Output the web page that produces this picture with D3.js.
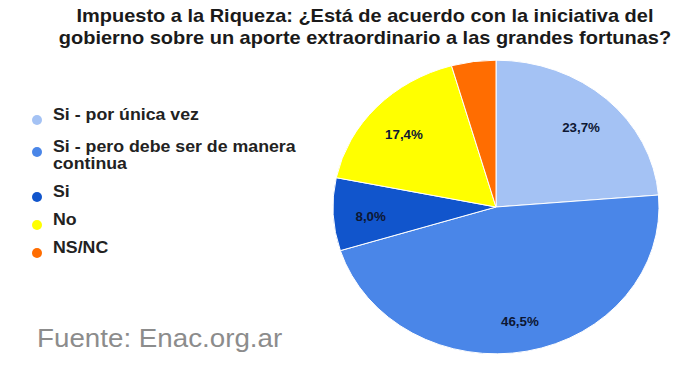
<!DOCTYPE html>
<html>
  <head>
    <meta charset="utf-8">
    <title>Impuesto a la Riqueza</title>
    <script src="https://d3js.org/d3.v7.min.js"></script>
    <style>
      body { margin: 0; background: #fff; }
      svg { display: block; font-family: "Liberation Sans", Arial, sans-serif; }
      .title { font-size: 18px; font-weight: bold; fill: #1a1a1a; }
      .legend text { font-size: 16px; font-weight: bold; fill: #222; }
      .slice { stroke: #fff; stroke-width: 1; }
      .label { font-size: 12px; font-weight: bold; fill: #0d1733; }
      .source { font-size: 25px; fill: #8c8c8c; }
    </style>
  </head>
  <body>
    <script>
      var categories = ['Si - por única vez', 'Si - pero debe ser de manera continua', 'Si', 'No', 'NS/NC'];
      var values = [23.7, 46.5, 8.0, 17.4, 4.4];
      var colors = ['#a4c2f4', '#4a86e8', '#1155cc', '#ffff00', '#ff6d01'];
      var titleLines = ['Impuesto a la Riqueza: ¿Está de acuerdo con la iniciativa del',
                        'gobierno sobre un aporte extraordinario a las grandes fortunas?'];
      var legendLines = [['Si - por única vez'], ['Si - pero debe ser de manera', 'continua'], ['Si'], ['No'], ['NS/NC']];

      var width = 693, height = 371;
      // the original picture is stretched sideways, text included
      var sx = 1.11;
      var svg = d3.select('body').append('svg').attr('width', width).attr('height', height);

      svg.append('g').attr('transform', 'translate(365,0) scale(' + sx + ',1)')
        .selectAll('.title').data(titleLines).enter().append('text')
        .attr('class', 'title')
        .attr('y', function(d, i){ return 22 + i * 22 })
        .attr('text-anchor', 'middle')
        .text(function(d){ return d });

      var cx = 496, cy = 207, rx = 163, ry = rx / sx;
      var pie = d3.pie().sort(null)(values);
      var arc = d3.arc().innerRadius(0).outerRadius(ry);

      var g = svg.append('g').attr('transform', 'translate(' + cx + ',' + cy + ') scale(' + sx + ',1)');
      g.selectAll('path').data(pie).enter().append('path')
        .attr('class', 'slice')
        .attr('vector-effect', 'non-scaling-stroke')
        .attr('fill', function(d, i){ return colors[i] })
        .attr('d', arc);

      var labelArc = d3.arc().innerRadius(ry * 0.77).outerRadius(ry * 0.77);
      g.selectAll('.label').data(pie.filter(function(d){ return d.data >= 5 })).enter().append('text')
        .attr('class', 'label')
        .attr('text-anchor', 'middle')
        .attr('dy', '0.7em')
        .attr('x', function(d){ return labelArc.centroid(d)[0] })
        .attr('y', function(d){ return labelArc.centroid(d)[1] })
        .text(function(d){ return d.data.toFixed(1).replace('.', ',') + '%' });

      var rowY = [120, 152, 197, 225, 253];
      var legend = svg.append('g').attr('class', 'legend');
      var rows = legend.selectAll('g').data(categories).enter().append('g')
        .attr('transform', function(d, i){ return 'translate(37,' + rowY[i] + ')' });
      rows.append('circle').attr('r', 5).attr('fill', function(d, i){ return colors[i] });
      rows.append('text')
        .attr('transform', 'translate(16,0) scale(' + sx + ',1)')
        .attr('dy', '0.36em')
        .selectAll('tspan').data(function(d, i){ return legendLines[i] }).enter().append('tspan')
        .attr('x', 0)
        .attr('dy', function(d, j){ return j ? 17 : 0 })
        .text(function(d){ return d });

      svg.append('text').attr('class', 'source')
        .attr('transform', 'translate(37,347) scale(' + sx + ',1)')
        .text('Fuente: Enac.org.ar');
    </script>
  </body>
</html>
